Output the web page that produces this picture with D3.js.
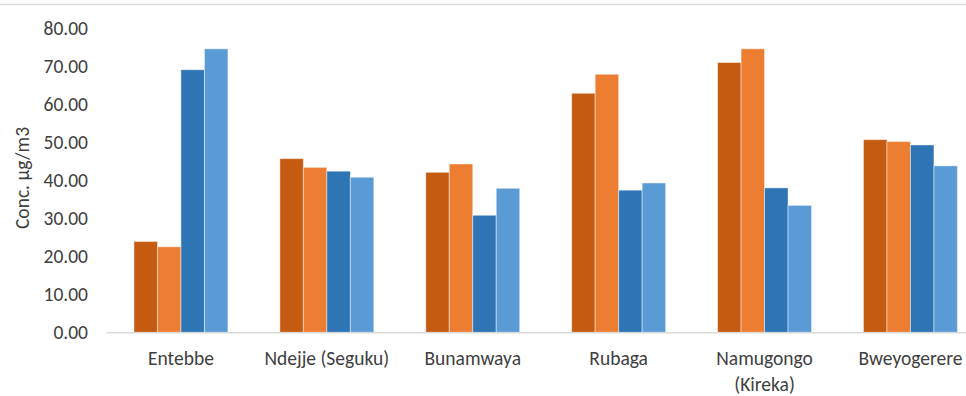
<!DOCTYPE html>
<html>
<head>
<meta charset="utf-8">
<script src="https://cdn.jsdelivr.net/npm/d3@7"></script>
<style>
  html, body { margin: 0; padding: 0; background: #fff; }
  svg { display: block; }
  text { font-family: Carlito, Calibri, "Liberation Sans", Arial, sans-serif; fill: #404040; }
</style>
</head>
<body>
<script>
// Sampling sites (second line of a label follows the "\n")
const categories = ["Entebbe", "Ndejje (Seguku)", "Bunamwaya", "Rubaga", "Namugongo\n(Kireka)", "Bweyogerere"];
const seriesNames = ["s1", "s2", "s3", "s4"];
const seriesColors = ["#C55A11", "#ED7D31", "#2E75B6", "#5B9BD5"];
// Concentrations (µg/m3) per series, one value per site
const s1 = [23.9, 45.7, 42.1, 62.9, 71.0, 50.7];
const s2 = [22.5, 43.4, 44.3, 67.9, 74.6, 50.2];
const s3 = [69.1, 42.4, 30.8, 37.4, 38.0, 49.3];
const s4 = [74.6, 40.8, 37.9, 39.3, 33.4, 43.8];
const seriesValues = [s1, s2, s3, s4];
const yTicks = [0, 10, 20, 30, 40, 50, 60, 70, 80];
const yLabel = "Conc. µg/m3";

const W = 966, H = 396;
const FS = 19.5;
const svg = d3.select("body").append("svg").attr("width", W).attr("height", H);

// Chart frame top edge
svg.append("line")
  .attr("x1", 0).attr("x2", W).attr("y1", 4.5).attr("y2", 4.5)
  .attr("stroke", "#d9d9d9").attr("stroke-width", 1.5);

const y = d3.scaleLinear().domain([0, 80]).range([332.3, 28.3]);
const x = d3.scaleBand().domain(categories).range([108, 983.4])
  .paddingInner(0.356).paddingOuter(0.178);
const xs = d3.scaleBand().domain(seriesNames).range([0, x.bandwidth()]);

// Bars
const groups = svg.append("g").selectAll("g")
  .data(categories).join("g")
  .attr("transform", d => `translate(${x(d)},0)`);

groups.selectAll("rect")
  .data((c, i) => seriesNames.map((s, k) => ({ s, k, v: seriesValues[k][i] })))
  .join("rect")
  .attr("x", d => xs(d.s))
  .attr("width", xs.bandwidth())
  .attr("y", d => y(d.v))
  .attr("height", d => y(0) - y(d.v))
  .attr("fill", d => seriesColors[d.k])
  .attr("stroke", "rgba(255,255,255,0.45)")
  .attr("stroke-width", 1);

// Category axis line
svg.append("line")
  .attr("x1", 107).attr("x2", W).attr("y1", y(0) + 0.5).attr("y2", y(0) + 0.5)
  .attr("stroke", "#d9d9d9").attr("stroke-width", 1.5);

// Value axis labels
const yAxis = d3.axisLeft(y).tickValues(yTicks).tickFormat(d3.format(".2f")).tickSize(0).tickPadding(0);
const yg = svg.append("g").attr("transform", "translate(88,0)").call(yAxis);
yg.select(".domain").remove();
yg.selectAll("text").attr("font-size", FS).attr("font-family", null).attr("fill", null);

// Category labels
const xl = svg.append("g").selectAll("text")
  .data(categories).join("text")
  .attr("x", d => x(d) + x.bandwidth() / 2)
  .attr("y", 365)
  .attr("text-anchor", "middle")
  .attr("font-size", FS);
xl.selectAll("tspan")
  .data(d => d.split("\n").map((t, i) => ({ t, i })))
  .join("tspan")
  .attr("x", function () { return this.parentNode.getAttribute("x"); })
  .attr("dy", d => d.i === 0 ? 0 : 26)
  .text(d => d.t);

// Axis title
svg.append("text")
  .attr("transform", "translate(29,178) rotate(-90)")
  .attr("text-anchor", "middle")
  .attr("font-size", FS)
  .text(yLabel);
</script>
</body>
</html>
